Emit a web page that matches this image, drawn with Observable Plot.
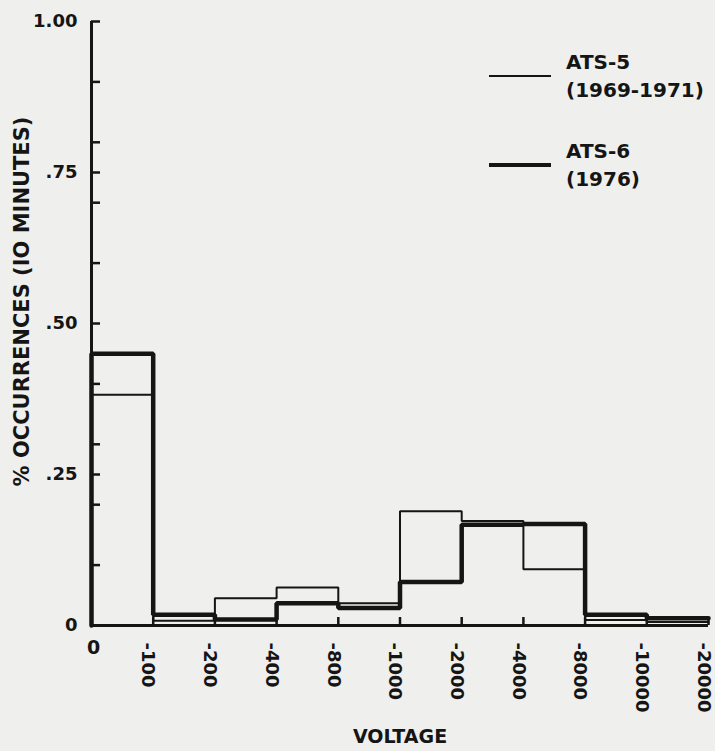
<!DOCTYPE html>
<html>
<head>
<meta charset="utf-8">
<script src="https://cdn.jsdelivr.net/npm/d3@7"></script>
<script src="https://cdn.jsdelivr.net/npm/@observablehq/plot@0.6"></script>
<style>
  html, body { margin: 0; padding: 0; background: #efefed; }
  #wrap { position: relative; width: 715px; height: 751px; overflow: hidden; }
  .lg-row { position: absolute; left: 489px; display: flex; align-items: center;
            font-family: "DejaVu Sans", sans-serif; font-weight: bold; font-size: 20px;
            line-height: 28px; color: #151515; }
  .lg-swatch { width: 62px; margin-right: 15px; background: #151515; }
</style>
</head>
<body>
<div id="wrap"></div>
<script>
// ---- data ----
const binEdges = ["0", "-100", "-200", "-400", "-800", "-1000", "-2000", "-4000", "-8000", "-10000", "-20000"];
const ats5 = [0.382, 0.008, 0.045, 0.063, 0.037, 0.189, 0.173, 0.093, 0.009, 0.006];
const ats6 = [0.450, 0.018, 0.010, 0.037, 0.029, 0.072, 0.167, 0.168, 0.018, 0.012];
const seriesNames = ["ATS-5", "ATS-6"];
const seriesPeriods = ["(1969-1971)", "(1976)"];
const yTickValues = [0, 0.1, 0.2, 0.25, 0.3, 0.4, 0.5, 0.6, 0.7, 0.75, 0.8, 0.9, 1];
const yLabelValues = [0, 0.25, 0.5, 0.75, 1];
const yLabelText = ["0", ".25", ".50", ".75", "1.00"];
const xTitle = "VOLTAGE";
const yTitle = "% OCCURRENCES (IO MINUTES)";

// ---- styling ----
const ink = "#151515";
const seriesWidths = [2, 4.5];

function steps(vals) {
  const pts = [{i: 0, v: 0}];
  vals.forEach((v, i) => pts.push({i, v}));
  pts.push({i: vals.length, v: vals[vals.length - 1]});
  return pts;
}

const edgeIdx = d3.range(1, binEdges.length);

const chart = Plot.plot({
  width: 715,
  height: 751,
  marginLeft: 91,
  marginRight: 7,
  marginTop: 21,
  marginBottom: 126,
  style: {background: "transparent", fontFamily: "'DejaVu Sans', sans-serif", fontWeight: "bold", color: ink, overflow: "visible"},
  x: {domain: [0, binEdges.length - 1], axis: null},
  y: {domain: [0, 1], axis: null},
  marks: [
    Plot.line(steps(ats5), {x: "i", y: "v", curve: "step-after", stroke: ink, strokeWidth: seriesWidths[0], strokeLinejoin: "miter"}),
    Plot.line(steps(ats6), {x: "i", y: "v", curve: "step-after", stroke: ink, strokeWidth: seriesWidths[1], strokeLinejoin: "miter"}),
    Plot.ruleX([0], {stroke: ink, strokeWidth: 3}),
    Plot.ruleY([0], {stroke: ink, strokeWidth: 3}),
    // inward y ticks
    Plot.axisY(yTickValues, {anchor: "left", tickSize: 9, dx: 9, tickFormat: () => "", stroke: ink, strokeWidth: 2.5, label: null}),
    Plot.axisY(yLabelValues, {anchor: "left", tickSize: 0, tickPadding: 14, fontSize: 18,
      tickFormat: d => yLabelText[yLabelValues.indexOf(d)], label: null}),
    // upward x ticks
    Plot.axisX(edgeIdx, {anchor: "bottom", tickSize: 8, dy: -8, tickFormat: () => "", stroke: ink, strokeWidth: 2.5, label: null}),
    Plot.axisX(edgeIdx, {anchor: "bottom", tickSize: 0, tickRotate: 90, tickPadding: 17, dx: -5, fontSize: 18,
      tickFormat: d => binEdges[d], label: null}),
    Plot.axisX([0], {anchor: "bottom", tickSize: 0, tickPadding: 15, dx: 2, fontSize: 19,
      tickFormat: d => binEdges[d], label: null}),
    Plot.text([xTitle], {frameAnchor: "bottom", dy: 117, fontSize: 19, fill: ink}),
    Plot.text([yTitle], {frameAnchor: "left", textAnchor: "middle", rotate: -90, dx: -69, dy: -22, fontSize: 21, fill: ink})
  ]
});

const wrap = document.getElementById("wrap");
wrap.appendChild(chart);

seriesNames.forEach((name, k) => {
  const row = document.createElement("div");
  row.className = "lg-row";
  row.style.top = (48 + k * 89) + "px";
  const sw = document.createElement("div");
  sw.className = "lg-swatch";
  sw.style.height = seriesWidths[k] + "px";
  const txt = document.createElement("div");
  txt.innerHTML = name + "<br>" + seriesPeriods[k];
  row.appendChild(sw);
  row.appendChild(txt);
  wrap.appendChild(row);
});
</script>
</body>
</html>
